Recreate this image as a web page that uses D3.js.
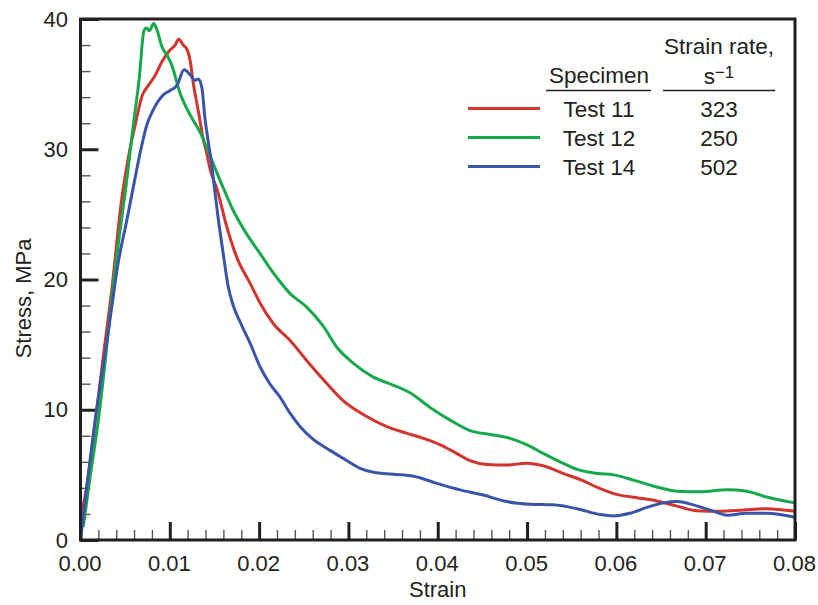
<!DOCTYPE html>
<html>
<head>
<meta charset="utf-8">
<script src="https://cdn.jsdelivr.net/npm/d3@7"></script>
<style>
  body { margin: 0; background: #fff; }
  svg text { font-family: "Liberation Sans", Arial, sans-serif; fill: #231f20; }
</style>
</head>
<body>
<div id="chart"></div>
<script>
// strain / stress pairs
const test11 = [
  [0.0000, 1.8], [0.0005, 3.3], [0.0014, 7.7], [0.0025, 13.8], [0.0035, 19.2],
  [0.0046, 26.1], [0.0055, 29.9], [0.0061, 31.8], [0.0069, 34.1], [0.0076, 34.9],
  [0.0083, 35.6], [0.0091, 36.7], [0.0100, 37.6], [0.0106, 38.0], [0.0110, 38.45],
  [0.0115, 38.0], [0.0119, 37.7], [0.0123, 36.7], [0.0126, 35.2], [0.0132, 32.9],
  [0.0138, 30.6], [0.0141, 29.8], [0.0145, 28.5], [0.0153, 26.9], [0.0164, 24.0],
  [0.0175, 21.7], [0.0190, 19.7], [0.0201, 18.2], [0.0216, 16.6], [0.0235, 15.3],
  [0.0253, 13.8], [0.0272, 12.3], [0.0294, 10.7], [0.0320, 9.5], [0.0343, 8.7],
  [0.0365, 8.2], [0.0384, 7.8], [0.0403, 7.3], [0.0421, 6.65], [0.0436, 6.1],
  [0.0455, 5.8], [0.0477, 5.75], [0.0500, 5.9], [0.0518, 5.7], [0.0541, 5.1],
  [0.0561, 4.6], [0.0580, 4.0], [0.0600, 3.5], [0.0623, 3.25], [0.0645, 3.0],
  [0.0668, 2.6], [0.0690, 2.25], [0.0716, 2.2], [0.0742, 2.3], [0.0768, 2.4],
  [0.0800, 2.2]
];
const test12 = [
  [0.0003, 1.0], [0.0012, 5.4], [0.0020, 9.2], [0.0027, 13.3], [0.0036, 19.2],
  [0.0044, 23.6], [0.0051, 27.2], [0.0059, 31.8], [0.0066, 35.6], [0.0071, 39.1],
  [0.0074, 39.3], [0.0077, 39.1], [0.0082, 39.65], [0.0086, 39.1], [0.0091, 37.9],
  [0.0097, 37.2], [0.0102, 36.5], [0.0111, 34.4], [0.0123, 32.6], [0.0134, 31.3],
  [0.0145, 29.5], [0.0157, 27.5], [0.0171, 25.3], [0.0186, 23.5], [0.0201, 22.0],
  [0.0216, 20.5], [0.0235, 18.9], [0.0253, 17.9], [0.0272, 16.4], [0.0287, 14.8],
  [0.0305, 13.6], [0.0328, 12.5], [0.0350, 11.9], [0.0369, 11.3], [0.0391, 10.2],
  [0.0414, 9.2], [0.0436, 8.4], [0.0459, 8.1], [0.0481, 7.8], [0.0500, 7.3],
  [0.0518, 6.65], [0.0537, 6.0], [0.0557, 5.4], [0.0580, 5.1], [0.0597, 5.0],
  [0.0619, 4.6], [0.0641, 4.15], [0.0668, 3.75], [0.0694, 3.7], [0.0724, 3.85],
  [0.0746, 3.75], [0.0768, 3.3], [0.0800, 2.85]
];
const test14 = [
  [0.0000, 0.0], [0.0008, 4.6], [0.0018, 10.0], [0.0027, 14.1], [0.0034, 17.4],
  [0.0042, 21.2], [0.0052, 24.6], [0.0060, 27.4], [0.0067, 29.8], [0.0074, 31.8],
  [0.0082, 33.1], [0.0093, 34.2], [0.0100, 34.5], [0.0108, 34.9], [0.0116, 36.1],
  [0.0123, 35.7], [0.0128, 35.3], [0.0132, 35.4], [0.0136, 34.7], [0.0139, 32.6],
  [0.0143, 30.6], [0.0147, 28.8], [0.0150, 27.0], [0.0154, 24.8], [0.0160, 21.9],
  [0.0165, 19.6], [0.0171, 18.0], [0.0179, 16.7], [0.0190, 15.1], [0.0201, 13.3],
  [0.0212, 12.0], [0.0223, 11.0], [0.0235, 9.7], [0.0246, 8.7], [0.0261, 7.7],
  [0.0279, 6.9], [0.0298, 6.1], [0.0313, 5.5], [0.0328, 5.2], [0.0350, 5.05],
  [0.0373, 4.9], [0.0399, 4.35], [0.0425, 3.85], [0.0451, 3.45], [0.0477, 2.95],
  [0.0503, 2.75], [0.0529, 2.7], [0.0556, 2.4], [0.0582, 1.95], [0.0597, 1.85],
  [0.0615, 2.05], [0.0634, 2.5], [0.0653, 2.85], [0.0668, 2.95], [0.0686, 2.7],
  [0.0709, 2.2], [0.0724, 1.9], [0.0746, 2.05], [0.0768, 2.05], [0.0800, 1.75]
];

const specimens = ["Test 11", "Test 12", "Test 14"];
const strainRates = ["323", "250", "502"];
const colors = ["#d2352e", "#16a94b", "#3a55a8"];
const xTicks = [0, 0.01, 0.02, 0.03, 0.04, 0.05, 0.06, 0.07, 0.08];
const yTicks = [0, 10, 20, 30, 40];

const width = 818, height = 605;
const margin = {top: 19, right: 23, bottom: 65, left: 80.5};
const w = width - margin.left - margin.right;
const h = height - margin.top - margin.bottom;

const svg = d3.select("#chart").append("svg")
    .attr("width", width)
    .attr("height", height);

const g = svg.append("g")
    .attr("transform", "translate(" + margin.left + "," + margin.top + ")");

const x = d3.scaleLinear().domain([0, 0.08]).range([0, w]);
const y = d3.scaleLinear().domain([0, 40]).range([h, 0]);

// minor ticks
const xMinor = d3.range(0, 0.0801, 0.002).filter(v => Math.abs(v * 100 - Math.round(v * 100)) > 1e-6);
const yMinor = d3.range(0, 40.1, 2).filter(v => v % 10 !== 0);

g.append("g")
    .attr("transform", "translate(0," + h + ")")
    .call(d3.axisBottom(x).tickValues(xMinor).tickSize(-10).tickFormat(""))
    .call(a => a.select(".domain").remove())
    .selectAll("line").attr("stroke", "#555").attr("stroke-width", 1.4);

g.append("g")
    .call(d3.axisLeft(y).tickValues(yMinor).tickSize(-10).tickFormat(""))
    .call(a => a.select(".domain").remove())
    .selectAll("line").attr("stroke", "#555").attr("stroke-width", 1.4);

// major ticks + labels
const xAxis = g.append("g")
    .attr("transform", "translate(0," + h + ")")
    .call(d3.axisBottom(x).tickValues(xTicks).tickSize(-18).tickPadding(15).tickFormat(d3.format(".2f")));
xAxis.select(".domain").remove();
xAxis.selectAll("line").attr("stroke", "#231f20").attr("stroke-width", 3);
xAxis.selectAll("text").attr("font-size", 22).attr("font-family", null).attr("dx", "-1");

const yAxis = g.append("g")
    .call(d3.axisLeft(y).tickValues(yTicks).tickSize(-18).tickPadding(12.5));
yAxis.select(".domain").remove();
yAxis.selectAll("line").attr("stroke", "#231f20").attr("stroke-width", 3);
yAxis.selectAll("text").attr("font-size", 22).attr("font-family", null);

// curves
const line = d3.line()
    .x(d => x(d[0]))
    .y(d => y(d[1]))
    .curve(d3.curveMonotoneX);

const plot = g.append("g");
plot.selectAll(".curve")
    .data([test11, test12, test14])
    .enter()
    .append("path")
    .attr("class", "curve")
    .attr("fill", "none")
    .attr("stroke", (d, i) => colors[i])
    .attr("stroke-width", 3)
    .attr("stroke-linejoin", "round")
    .attr("d", line);

// frame
g.append("rect")
    .attr("width", w)
    .attr("height", h)
    .attr("fill", "none")
    .attr("stroke", "#231f20")
    .attr("stroke-width", 3);

// axis titles
svg.append("text")
    .attr("x", margin.left + w / 2)
    .attr("y", 597)
    .attr("text-anchor", "middle")
    .attr("font-size", 22)
    .text("Strain");

svg.append("text")
    .attr("transform", "translate(31," + (margin.top + h / 2 + 19) + ") rotate(-90)")
    .attr("text-anchor", "middle")
    .attr("font-size", 22)
    .text("Stress, MPa");

// legend table
const legend = svg.append("g");
const colSpec = 599, colRate = 719;

legend.append("text")
    .attr("x", colRate).attr("y", 54)
    .attr("text-anchor", "middle").attr("font-size", 22.5)
    .text("Strain rate,");

const sLabel = legend.append("text")
    .attr("x", colRate).attr("y", 84)
    .attr("text-anchor", "middle").attr("font-size", 22.5);
sLabel.append("tspan").text("s");
sLabel.append("tspan").attr("dy", -6).attr("font-size", 17).text("\u22121");

legend.append("text")
    .attr("x", colSpec).attr("y", 83)
    .attr("text-anchor", "middle").attr("font-size", 22.5)
    .text("Specimen");

legend.append("line")
    .attr("x1", 546).attr("x2", 651).attr("y1", 90.5).attr("y2", 90.5)
    .attr("stroke", "#231f20").attr("stroke-width", 1.3);
legend.append("line")
    .attr("x1", 663).attr("x2", 775).attr("y1", 90.5).attr("y2", 90.5)
    .attr("stroke", "#231f20").attr("stroke-width", 1.3);

const rows = legend.selectAll(".row")
    .data(specimens)
    .enter()
    .append("g")
    .attr("class", "row")
    .attr("transform", (d, i) => "translate(0," + (108.5 + i * 29) + ")");

rows.append("line")
    .attr("x1", 468).attr("x2", 540)
    .attr("stroke", (d, i) => colors[i])
    .attr("stroke-width", 3);

rows.append("text")
    .attr("x", colSpec).attr("y", 8.5)
    .attr("text-anchor", "middle").attr("font-size", 22.5)
    .text(d => d);

rows.append("text")
    .attr("x", colRate).attr("y", 8.5)
    .attr("text-anchor", "middle").attr("font-size", 22.5)
    .text((d, i) => strainRates[i]);
</script>
</body>
</html>
